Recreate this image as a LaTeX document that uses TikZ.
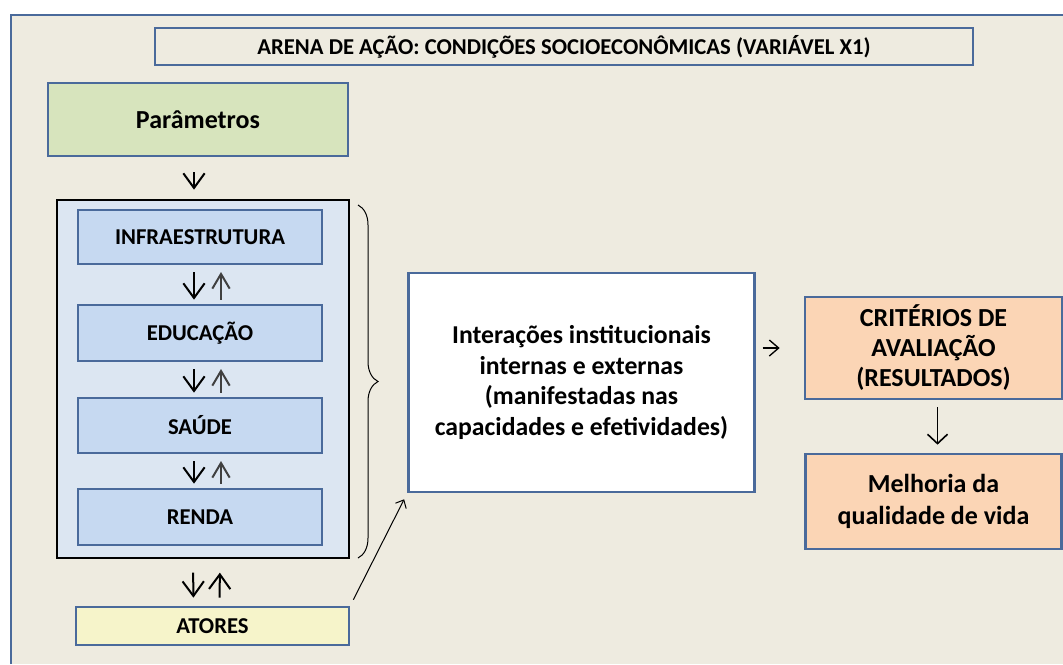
\documentclass[tikz,border=0pt]{standalone}
\usepackage{fontspec}
\setmainfont{Carlito}
\usepackage{tikz}
\usetikzlibrary{positioning, arrows.meta, decorations.pathreplacing}

\definecolor{bgbeige}{HTML}{EEEBE0}
\definecolor{frameblue}{HTML}{4A6A9B}
\definecolor{paramgreen}{HTML}{D7E4BD}
\definecolor{outerblue}{HTML}{DCE6F2}
\definecolor{innerblue}{HTML}{C6D9F1}
\definecolor{actoryellow}{HTML}{F6F4CA}
\definecolor{resultorange}{HTML}{FBD5B5}

\begin{document}
\begin{tikzpicture}[x=0.75pt, y=-0.75pt, thick,
  blue box/.style={draw=frameblue, line width=2pt, inner sep=0pt, align=center,
    font=\bfseries\fontsize{17}{20}\selectfont},
  big text/.style={font=\bfseries\fontsize{19.5}{23}\selectfont},
  inner box/.style={blue box, fill=innerblue, minimum width=183pt},
  orange box/.style={blue box, big text, fill=resultorange},
  down arr/.style={line width=1.5pt, -{Straight Barb[length=11pt,width=16pt]}},
  up arr/.style={line width=1.5pt, black!75, -{Straight Barb[length=11pt,width=13pt]}},
  thin arr/.style={line width=1pt, -{Straight Barb[length=7pt,width=12pt]}}]

\useasboundingbox (0,0) rectangle (1063,664);
\fill[white] (0,0) rectangle (1063,664);

% outer frame, cut at the right and bottom
\fill[bgbeige] (11,15) rectangle (1063,664);
\draw[frameblue, line width=2pt] (11,664) -- (11,15) -- (1063,15);

\node[blue box, fill=bgbeige, minimum width=613.5pt, minimum height=27.75pt] (title) at (564,46.5)
  {ARENA DE AÇÃO: CONDIÇÕES SOCIOECONÔMICAS (VARIÁVEL X1)};

\node[blue box, big text, fill=paramgreen, minimum width=225pt, minimum height=54.75pt] (param) at (198,119.5)
  {Parâmetros};

\node[draw=black, line width=2pt, fill=outerblue, minimum width=219pt, minimum height=268.5pt] (arena) at (203,379) {};

\node[inner box, minimum height=40.5pt] (infra) at (200,237) {INFRAESTRUTURA};
\node[inner box, minimum height=42pt] (edu) at (200,333) {EDUCAÇÃO};
\node[inner box, minimum height=41.25pt] (saude) at (200,425.5) {SAÚDE};
\node[inner box, minimum height=42pt] (renda) at (200,517) {RENDA};

\node[blue box, fill=actoryellow, minimum width=204.75pt, minimum height=28.5pt] (atores) at (212.5,626) {ATORES};

\node[blue box, font=\bfseries\fontsize{19.3}{23}\selectfont, fill=white, minimum width=259.5pt, minimum height=164.25pt] (inter) at (581.5,382.5)
  {Interações institucionais\\internas e externas\\(manifestadas nas\\capacidades e efetividades)};

\node[orange box, font=\bfseries\fontsize{19.5}{22.5}\selectfont, minimum width=192.75pt, minimum height=76.5pt] (crit) at (933.5,348)
  {CRITÉRIOS DE\\AVALIAÇÃO\\(RESULTADOS)};
\node[orange box, font=\bfseries\fontsize{19.5}{24}\selectfont, minimum width=192pt, minimum height=71.25pt] (melhoria) at (933.5,501.5)
  {Melhoria da\\qualidade de vida};

% arrows
\draw[down arr, shorten <=11pt, shorten >=6.75pt] ([xshift=-3pt]param.south) -- ([xshift=-6.75pt]arena.north);
\foreach \a/\b in {infra/edu, edu/saude, saude/renda}{
  \draw[down arr, shorten <=5pt, shorten >=3pt] ([xshift=-4.5pt]\a.south) -- ([xshift=-4.5pt]\b.north);
  \draw[up arr, shorten <=3pt, shorten >=5pt] ([xshift=15.75pt]\b.north) -- ([xshift=15.75pt]\a.south);
}
\draw[down arr, shorten <=10pt, shorten >=6pt] ([xshift=-7.5pt]arena.south) -- ([xshift=-14.25pt]atores.north);
\draw[down arr, shorten <=6pt, shorten >=10pt] ([xshift=5.25pt]atores.north) -- ([xshift=12.75pt]arena.south);
\draw[thin arr, line width=0.75pt, -{Straight Barb[length=5pt,width=9pt]}, shorten <=5pt, shorten >=5pt] (atores.north east) -- (inter.south west);
\draw[thin arr, shorten <=5pt, shorten >=18pt] (inter.east |- crit.center) -- (crit.west);
\draw[thin arr, line width=1.2pt, -{Straight Barb[length=7pt,width=15pt]}, shorten <=5pt, shorten >=6pt] ([xshift=3pt]crit.south) -- ([xshift=3pt]melhoria.north);

% brace
\draw[decorate, decoration={brace, amplitude=15pt}, line width=0.75pt] (358,205) -- (358,558);

\end{tikzpicture}
\end{document}
